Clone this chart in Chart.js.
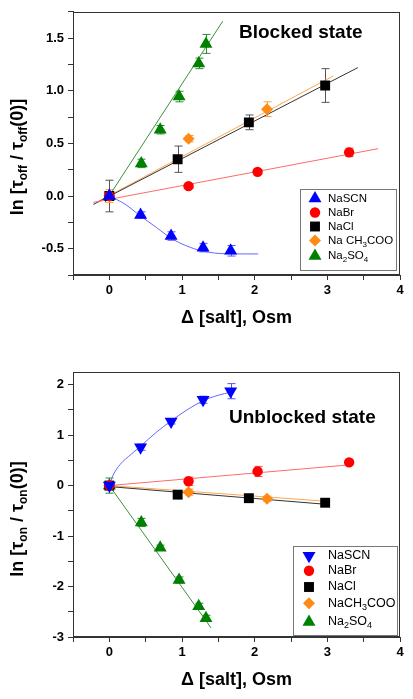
<!DOCTYPE html>
<html>
<head>
<meta charset="utf-8">
<script src="https://cdn.jsdelivr.net/npm/chart.js@4.4.0/dist/chart.umd.min.js"></script>
<style>
body { margin: 0; background: #fff; }
canvas { display: block; }
</style>
</head>
<body>
<canvas id="blocked" width="413" height="340"></canvas>
<canvas id="unblocked" width="413" height="359"></canvas>
<script>
// axis ticks
const tickX = [-0.5, 0, 0.5, 1, 1.5, 2, 2.5, 3, 3.5, 4];
const labelX = [0, 1, 2, 3, 4];
const tickYoff = [-0.75, -0.5, -0.25, 0, 0.25, 0.5, 0.75, 1, 1.25, 1.5, 1.75];
const labelYoff = [-0.5, 0, 0.5, 1, 1.5];
const tickYon = [-3, -2.5, -2, -1.5, -1, -0.5, 0, 0.5, 1, 1.5, 2];
const labelYon = [-3, -2, -1, 0, 1, 2];

// blocked state, ln[toff/toff(0)]
const offScnX = [0, 0.43, 0.85, 1.29, 1.67];
const offScnY = [0, -0.18, -0.38, -0.49, -0.52];
const offScnErr = [0.03, 0.03, 0.04, 0.04, 0.05];
const offBrX = [0, 1.09, 2.04, 3.30];
const offBrY = [0, 0.094, 0.23, 0.415];
const offBrErr = [0.03, 0.02, 0.02, 0.04];
const offClX = [0, 0.94, 1.92, 2.97];
const offClY = [0, 0.35, 0.70, 1.05];
const offClErr = [0.15, 0.125, 0.07, 0.16];
const offAcX = [0, 1.09, 2.17];
const offAcY = [0, 0.545, 0.825];
const offAcErr = [0.06, 0.03, 0.07];
const offSoX = [0, 0.44, 0.70, 0.96, 1.23, 1.33];
const offSoY = [0, 0.31, 0.63, 0.945, 1.26, 1.445];
const offSoErr = [0.03, 0.04, 0.04, 0.05, 0.05, 0.09];
// fitted curves
const offScnFitX = [0, 0.2, 0.43, 0.65, 0.85, 1.05, 1.3, 1.6, 2.05];
const offScnFitY = [0, -0.07, -0.19, -0.30, -0.40, -0.47, -0.525, -0.548, -0.55];
const offBrFitX = [-0.22, 3.7];
const offBrFitY = [-0.06, 0.45];
const offClFitX = [-0.22, 3.42];
const offClFitY = [-0.08, 1.22];
const offAcFitX = [-0.15, 3.08];
const offAcFitY = [-0.05, 1.14];
const offSoFitX = [-0.06, 1.56];
const offSoFitY = [-0.06, 1.66];

// unblocked state, ln[ton/ton(0)]
const onScnX = [0, 0.43, 0.85, 1.29, 1.67];
const onScnY = [0, 0.76, 1.27, 1.70, 1.87];
const onScnErr = [0.08, 0.06, 0.05, 0.07, 0.15];
const onBrX = [0, 1.09, 2.04, 3.30];
const onBrY = [0, 0.085, 0.28, 0.46];
const onBrErr = [0.05, 0.08, 0.1, 0.05];
const onClX = [0, 0.94, 1.92, 2.97];
const onClY = [0, -0.18, -0.25, -0.34];
const onClErr = [0.05, 0.07, 0.05, 0.05];
const onAcX = [0, 1.09, 2.17];
const onAcY = [0, -0.13, -0.26];
const onAcErr = [0.05, 0.06, 0.05];
const onSoX = [0, 0.44, 0.70, 0.96, 1.23, 1.33];
const onSoY = [0, -0.73, -1.23, -1.87, -2.39, -2.63];
const onSoErr = [0.15, 0.08, 0.05, 0.06, 0.06, 0.06];
const onScnFitX = [0, 0.05, 0.15, 0.3, 0.43, 0.65, 0.85, 1.07, 1.29, 1.5, 1.67];
const onScnFitY = [0, 0.2, 0.42, 0.62, 0.78, 1.06, 1.28, 1.5, 1.68, 1.79, 1.85];
const onBrFitX = [0, 3.3];
const onBrFitY = [0, 0.41];
const onClFitX = [0, 2.97];
const onClFitY = [-0.02, -0.37];
const onAcFitX = [0, 2.97];
const onAcFitY = [0, -0.31];
const onSoFitX = [0, 1.40];
const onSoFitY = [0, -2.82];

// legend labels, [text, isSubscript]
const legendOff = [
    [['NaSCN', 0]],
    [['NaBr', 0]],
    [['NaCl', 0]],
    [['Na CH', 0], ['3', 1], ['COO', 0]],
    [['Na', 0], ['2', 1], ['SO', 0], ['4', 1]]
];
const legendOn = [
    [['NaSCN', 0]],
    [['NaBr', 0]],
    [['NaCl', 0]],
    [['NaCH', 0], ['3', 1], ['COO', 0]],
    [['Na', 0], ['2', 1], ['SO', 0], ['4', 1]]
];

const markerColors = ['#0000ff', '#ff0000', '#000000', '#ff8a14', '#008000'];
const lineColors = ['#6666ff', '#ff6b6b', '#333333', '#ffa64d', '#3d8f3d'];
const errColors = ['#5555ff', '#ff5050', '#555555', '#ff9a3c', '#2e8b2e'];
const FONT = 'Liberation Sans, Arial, sans-serif';
Chart.defaults.font.family = FONT;

function pts(xs, ys) {
    return xs.map((x, i) => ({ x: x, y: ys[i] }));
}

function makeSets(series, scnDown) {
    const styles = ['triangle', 'circle', 'rect', 'rectRot', 'triangle'];
    const radii = [7.5, 5.2, 7, 6, 7.5];
    const sets = [];
    series.forEach((s, i) => {
        sets.push({
            data: pts(s.fx, s.fy), showLine: true, pointRadius: 0,
            borderColor: lineColors[i], borderWidth: 1,
            tension: s.fx.length > 2 ? 0.4 : 0, cubicInterpolationMode: 'monotone',
            order: 3
        });
    });
    series.forEach((s, i) => {
        sets.push({
            data: pts(s.x, s.y), err: s.e, errColor: errColors[i],
            showLine: false, pointStyle: styles[i], pointRadius: radii[i],
            rotation: (i === 0 && scnDown) ? 180 : 0,
            backgroundColor: markerColors[i], borderColor: markerColors[i], borderWidth: 0,
            order: 1
        });
    });
    return sets;
}

function richWidth(ctx, segs, font, subFont) {
    let w = 0;
    segs.forEach(s => { ctx.font = s[1] ? subFont : font; w += ctx.measureText(s[0]).width; });
    return w;
}
function drawRich(ctx, segs, x, y, font, subFont, subDy) {
    ctx.textBaseline = 'middle';
    ctx.textAlign = 'left';
    segs.forEach(s => {
        ctx.font = s[1] ? subFont : font;
        ctx.fillText(s[0], x, s[1] ? y + subDy : y);
        x += ctx.measureText(s[0]).width;
    });
}

// error bars, behind the markers
const errorBars = {
    id: 'errorBars',
    beforeDatasetsDraw(chart) {
        const ctx = chart.ctx;
        const ys = chart.scales.y;
        chart.data.datasets.forEach((ds, i) => {
            if (!ds.err) return;
            const meta = chart.getDatasetMeta(i);
            ctx.save();
            ctx.strokeStyle = ds.errColor;
            ctx.lineWidth = 1;
            meta.data.forEach((pt, j) => {
                const v = ds.data[j].y;
                const top = ys.getPixelForValue(v + ds.err[j]);
                const bot = ys.getPixelForValue(v - ds.err[j]);
                const x = Math.round(pt.x) + 0.5;
                ctx.beginPath();
                ctx.moveTo(x, top); ctx.lineTo(x, bot);
                ctx.moveTo(x - 4, top); ctx.lineTo(x + 4, top);
                ctx.moveTo(x - 4, bot); ctx.lineTo(x + 4, bot);
                ctx.stroke();
            });
            ctx.restore();
        });
    }
};

// frame, y title, legend box, state label
const decor = {
    id: 'decor',
    afterDraw(chart, args, o) {
        const ctx = chart.ctx;
        const a = chart.chartArea;
        ctx.save();
        ctx.strokeStyle = '#333';
        ctx.lineWidth = 1;
        ctx.strokeRect(Math.round(a.left) + 0.5, Math.round(a.top) + 0.5,
            Math.round(a.right - a.left) - 1, Math.round(a.bottom - a.top) - 1);

        // y axis title
        ctx.fillStyle = '#000';
        ctx.save();
        ctx.translate(o.ytitle.x, o.ytitle.y);
        ctx.rotate(-Math.PI / 2);
        const f = 'bold 18px ' + FONT, sf = 'bold 12px ' + FONT;
        const w = richWidth(ctx, o.ytitle.segs, f, sf);
        drawRich(ctx, o.ytitle.segs, -w / 2, 0, f, sf, 6);
        ctx.restore();

        // state label
        ctx.font = 'bold 19px ' + FONT;
        ctx.textBaseline = 'middle';
        ctx.textAlign = 'left';
        ctx.fillText(o.label.text, o.label.x, o.label.y);

        // legend box
        const L = o.legend;
        ctx.fillStyle = '#fff';
        ctx.fillRect(L.box[0], L.box[1], L.box[2], L.box[3]);
        ctx.strokeStyle = '#777';
        ctx.strokeRect(L.box[0] + 0.5, L.box[1] + 0.5, L.box[2], L.box[3]);
        const sets = chart.data.datasets.filter(d => d.err);
        L.labels.forEach((segs, i) => {
            const ds = sets[i];
            const y = L.rows[i];
            ctx.fillStyle = ds.backgroundColor;
            ctx.strokeStyle = ds.backgroundColor;
            Chart.helpers.drawPoint(ctx, {
                pointStyle: ds.pointStyle, rotation: ds.rotation,
                radius: ds.pointRadius, borderWidth: 0
            }, L.symX, y);
            ctx.fillStyle = '#000';
            drawRich(ctx, segs, L.textX, y, L.font + 'px ' + FONT, Math.round(L.font * 0.7) + 'px ' + FONT, 4);
        });
        ctx.restore();
    }
};

function makeChart(id, series, scnDown, yTicks, yLabels, yMin, yMax, yFmt, layout, deco) {
    return new Chart(document.getElementById(id), {
        type: 'scatter',
        data: { datasets: makeSets(series, scnDown) },
        plugins: [errorBars, decor],
        options: {
            responsive: false,
            animation: false,
            devicePixelRatio: 1,
            layout: { padding: { left: 0, right: 13, top: layout.top, bottom: 0 } },
            plugins: {
                legend: { display: false },
                tooltip: { enabled: false },
                decor: deco
            },
            scales: {
                x: {
                    type: 'linear', min: -0.5, max: 4,
                    afterBuildTicks: s => { s.ticks = tickX.map(v => ({ value: v })); },
                    afterFit: s => { s.height = layout.xh; },
                    ticks: {
                        callback: v => labelX.includes(v) ? String(v) : '',
                        font: { size: 13, weight: 'bold' }, color: '#000',
                        autoSkip: false, maxRotation: 0, padding: 3
                    },
                    grid: { drawOnChartArea: false, tickLength: 5, color: '#333' },
                    border: { color: '#333' },
                    title: {
                        display: true, text: 'Δ [salt], Osm', color: '#000',
                        font: { size: 18, weight: 'bold' },
                        padding: { top: 0, bottom: layout.titlePad }
                    }
                },
                y: {
                    type: 'linear', min: yMin, max: yMax,
                    afterBuildTicks: s => { s.ticks = yTicks.map(v => ({ value: v })); },
                    afterFit: s => { s.width = 73; },
                    ticks: {
                        callback: v => yLabels.includes(v) ? yFmt(v) : '',
                        font: { size: 13, weight: 'bold' }, color: '#000',
                        autoSkip: false, padding: 4
                    },
                    grid: { drawOnChartArea: false, tickLength: 5, color: '#333' },
                    border: { color: '#333' }
                }
            }
        }
    });
}

makeChart('blocked', [
    { x: offScnX, y: offScnY, e: offScnErr, fx: offScnFitX, fy: offScnFitY },
    { x: offBrX, y: offBrY, e: offBrErr, fx: offBrFitX, fy: offBrFitY },
    { x: offClX, y: offClY, e: offClErr, fx: offClFitX, fy: offClFitY },
    { x: offAcX, y: offAcY, e: offAcErr, fx: offAcFitX, fy: offAcFitY },
    { x: offSoX, y: offSoY, e: offSoErr, fx: offSoFitX, fy: offSoFitY }
], false, tickYoff, labelYoff, -0.75, 1.75, v => v.toFixed(1),
    { top: 10, xh: 65, titlePad: 11 },
    {
        ytitle: { x: 18, y: 157, segs: [['ln [τ', 0], ['off', 1], [' / τ', 0], ['off', 1], ['(0)]', 0]] },
        label: { text: 'Blocked state', x: 239, y: 33 },
        legend: { box: [300, 189, 96, 81], symX: 315, textX: 328, rows: [198.5, 212.5, 226.5, 240.5, 256], labels: legendOff, font: 11.5 }
    });

makeChart('unblocked', [
    { x: onScnX, y: onScnY, e: onScnErr, fx: onScnFitX, fy: onScnFitY },
    { x: onBrX, y: onBrY, e: onBrErr, fx: onBrFitX, fy: onBrFitY },
    { x: onClX, y: onClY, e: onClErr, fx: onClFitX, fy: onClFitY },
    { x: onAcX, y: onAcY, e: onAcErr, fx: onAcFitX, fy: onAcFitY },
    { x: onSoX, y: onSoY, e: onSoErr, fx: onSoFitX, fy: onSoFitY }
], true, tickYon, labelYon, -3, 2.25, v => String(v),
    { top: 32, xh: 62, titlePad: 8 },
    {
        ytitle: { x: 18, y: 179, segs: [['ln [τ', 0], ['on', 1], [' / τ', 0], ['on', 1], ['(0)]', 0]] },
        label: { text: 'Unblocked state', x: 229, y: 78 },
        legend: { box: [293, 206, 104, 89], symX: 309, textX: 328, rows: [215.7, 230.7, 247, 263.3, 282], labels: legendOn, font: 12.5 }
    });
</script>
</body>
</html>
